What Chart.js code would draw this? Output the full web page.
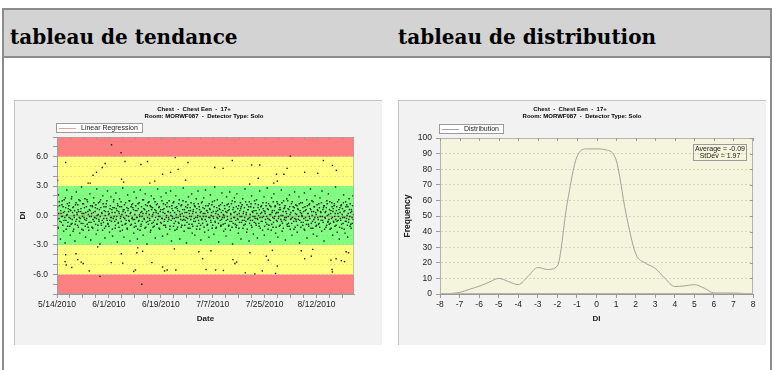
<!DOCTYPE html>
<html>
<head>
<meta charset="utf-8">
<script src="https://cdn.jsdelivr.net/npm/chart.js@4.4.0/dist/chart.umd.min.js"></script>
<style>
  html, body { margin: 0; padding: 0; background: #fff; width: 775px; height: 370px; overflow: hidden; }
  #frame { position: absolute; left: 2px; top: 8px; width: 766px; height: 400px; border: 2px solid #8c8c8c; border-bottom: none; }
  #head { position: absolute; left: 4px; top: 10px; width: 766px; height: 46px; background: #d3d3d3; border-bottom: 2px solid #8c8c8c; }
  .h { position: absolute; top: 10px; font: bold 20px "DejaVu Serif", serif; line-height: 54px; color: #000; white-space: nowrap; }
  canvas { position: absolute; }
</style>
</head>
<body>
<div id="frame"></div>
<div id="head"></div>
<div class="h" style="left:10px">tableau de tendance</div>
<div class="h" style="left:398px">tableau de distribution</div>
<canvas id="trend" width="368" height="245" style="left:14px;top:100px"></canvas>
<canvas id="dist" width="368" height="245" style="left:398px;top:100px"></canvas>
<script>
// ---- shared chart header ----
const chartTitleLines = ['Chest  -  Chest Een  -  17+', 'Room: MORWF087  -  Detector Type: Solo'];

// ---- trend chart: DI per exam, days counted from 5/14/2010 ----
const trendTickLabels = ['5/14/2010', '6/1/2010', '6/19/2010', '7/7/2010', '7/25/2010', '8/12/2010'];
const trendTickDays = [0, 18, 36, 54, 72, 90];
const trendMinorStep = 4.5;
const trendDayRange = [0, 103];
const bandLimits = [-8, -6, -3, 3, 6, 8];
const bandColors = ['#ff8080', '#ffff80', '#80ff80', '#ffff80', '#ff8080'];
const regressionLine = [[0, -0.03], [103, -0.1]];

const trendPoints = [
  [0.1,0.6],[0.3,-1.2],[0.5,2.1],[0.7,-0.3],[0.9,1.0],[1.2,-2.4],[1.4,0.2],[1.5,-0.7],[1.8,1.5],[1.9,-0.1],
  [2.1,0.9],[2.3,-1.6],[2.6,0.4],[2.8,-2.8],[2.9,1.8],[3.1,-0.5],[3.4,2.6],[3.5,0.1],[3.7,-1.1],[3.9,0.7],
  [4.2,-0.2],[4.3,1.3],[4.6,-2.0],[4.8,0.5],[4.9,-0.9],[5.1,1.9],[5.3,-0.4],[5.5,0.8],[5.8,-1.4],[5.9,0.0],
  [6.2,-2.6],[6.4,1.1],[6.5,-0.6],[6.7,2.4],[6.9,0.3],[7.1,-1.0],[7.3,0.6],[7.6,1.6],[7.7,-0.2],[7.9,-1.8],
  [8.2,0.4],[8.4,-0.8],[8.5,2.9],[8.8,-0.1],[8.9,1.2],[9.1,-1.5],[9.3,0.2],[9.6,-0.4],[9.7,1.7],[9.9,-2.2],
  [10.2,0.9],[10.3,-0.3],[10.6,1.4],[10.8,-1.2],[10.9,0.1],[11.1,-0.7],[11.4,2.2],[11.5,0.5],[11.7,-2.5],[11.9,-0.1],
  [12.2,1.0],[12.4,-1.3],[12.6,0.3],[12.7,1.8],[12.9,-0.6],[13.1,-0.2],[13.3,0.8],[13.6,-1.9],[13.8,2.7],[13.9,0.0],
  [14.2,-1.0],[14.4,1.3],[14.5,-0.4],[14.7,0.6],[14.9,-2.9],[15.1,1.6],[15.3,-0.8],[15.6,0.2],[15.8,-1.5],[15.9,2.0],
  [16.2,-0.3],[16.3,0.9],[16.6,-2.3],[16.8,0.4],[16.9,-1.1],[17.1,1.2],[17.4,-0.5],[17.5,2.5],[17.7,-0.9],[17.9,0.1],
  [18.2,-1.7],[18.4,0.7],[18.6,-0.2],[18.7,1.9],[18.9,-0.6],[19.1,0.3],[19.3,-2.1],[19.6,1.4],[19.8,-0.1],[19.9,0.8],
  [20.2,-1.3],[20.4,2.3],[20.5,-0.4],[20.8,0.5],[20.9,-2.7],[21.1,1.0],[21.3,-0.7],[21.6,0.2],[21.7,1.7],[21.9,-1.6],
  [22.1,-0.1],[22.4,0.9],[22.6,-1.0],[22.8,2.8],[22.9,0.4],[23.2,-2.2],[23.3,0.6],[23.5,-0.3],[23.8,1.3],[23.9,-0.8],
  [24.1,0.0],[24.4,-1.4],[24.5,2.1],[24.7,0.7],[24.9,-0.5],[25.2,1.5],[25.3,-2.6],[25.6,0.3],[25.8,-0.9],[25.9,1.1],
  [26.1,-0.2],[26.3,0.8],[26.6,-1.8],[26.7,2.4],[26.9,-0.4],[27.2,0.5],[27.4,-1.1],[27.5,1.8],[27.8,-0.2],[27.9,-2.4],
  [28.1,1.2],[28.3,-0.6],[28.6,0.1],[28.8,-1.5],[28.9,2.6],[29.2,-0.9],[29.4,0.4],[29.5,-0.1],[29.7,1.6],[29.9,-2.0],
  [30.1,0.7],[30.3,-0.4],[30.6,2.2],[30.8,-1.2],[30.9,0.2],[31.2,-2.9],[31.3,1.0],[31.5,-0.6],[31.8,0.5],[31.9,1.4],
  [32.1,-0.3],[32.4,-1.7],[32.6,0.9],[32.7,2.0],[32.9,-0.8],[33.2,0.1],[33.3,-1.2],[33.6,1.7],[33.8,-0.5],[33.9,0.6],
  [34.1,-2.3],[34.4,0.3],[34.5,1.1],[34.7,-0.9],[34.9,2.7],[35.2,-0.1],[35.3,0.8],[35.6,-1.4],[35.8,0.4],[35.9,-0.7],
  [36.1,1.9],[36.3,-0.3],[36.6,-2.1],[36.7,0.6],[36.9,1.2],[37.2,-0.6],[37.4,0.2],[37.5,-1.0],[37.8,2.3],[37.9,-0.2],
  [38.1,0.9],[38.3,-1.9],[38.6,0.4],[38.8,-0.4],[38.9,1.5],[39.2,-1.1],[39.4,2.5],[39.5,0.0],[39.7,-2.6],[39.9,0.7],
  [40.1,-0.3],[40.3,1.3],[40.6,-0.8],[40.8,0.3],[40.9,-1.5],[41.2,2.0],[41.3,-0.2],[41.5,0.9],[41.8,-1.2],[41.9,0.5],
  [42.1,-0.7],[42.4,1.6],[42.6,-2.4],[42.7,0.1],[42.9,-0.4],[43.2,1.1],[43.3,-1.0],[43.6,0.6],[43.8,2.8],[43.9,-0.1],
  [44.1,-1.6],[44.4,0.3],[44.5,-0.5],[44.7,1.4],[44.9,-2.8],[45.2,0.8],[45.3,-0.3],[45.6,1.9],[45.8,-0.9],[45.9,0.2],
  [46.1,-1.3],[46.3,0.5],[46.6,-0.1],[46.7,2.2],[46.9,-1.8],[47.2,0.4],[47.4,-0.6],[47.5,1.2],[47.8,-2.0],[47.9,0.9],
  [48.1,-0.2],[48.3,1.7],[48.6,-1.1],[48.8,0.0],[48.9,2.5],[49.2,-0.8],[49.4,0.6],[49.5,-1.4],[49.7,0.3],[49.9,-2.5],
  [50.1,1.3],[50.3,-0.4],[50.6,0.8],[50.8,-0.1],[50.9,1.8],[51.2,-1.7],[51.3,0.2],[51.5,2.6],[51.8,-0.6],[51.9,0.5],
  [52.1,-1.0],[52.4,1.0],[52.6,-0.2],[52.7,-2.2],[52.9,0.7],[53.2,2.1],[53.3,-0.5],[53.6,0.3],[53.8,-1.3],[53.9,1.4],
  [54.1,-0.1],[54.4,-1.9],[54.5,0.9],[54.7,2.9],[54.9,-0.7],[55.2,0.4],[55.3,-1.2],[55.6,1.6],[55.8,-0.3],[55.9,0.1],
  [56.1,-2.7],[56.3,0.7],[56.6,-0.5],[56.7,1.1],[56.9,-1.0],[57.2,2.3],[57.4,-0.2],[57.5,0.5],[57.8,-1.6],[57.9,0.0],
  [58.1,1.0],[58.3,-0.8],[58.6,-2.1],[58.8,1.9],[58.9,0.3],[59.2,-0.4],[59.4,1.2],[59.5,-1.1],[59.7,0.6],[59.9,2.4],
  [60.1,-1.5],[60.3,0.1],[60.6,-0.6],[60.8,1.5],[60.9,-2.9],[61.2,0.8],[61.3,-0.2],[61.5,1.8],[61.8,-0.9],[61.9,0.4],
  [62.1,-1.2],[62.4,2.2],[62.6,-0.3],[62.7,0.7],[62.9,-1.8],[63.2,0.2],[63.3,-0.7],[63.6,1.3],[63.8,-2.4],[63.9,0.9],
  [64.1,-0.1],[64.4,1.7],[64.5,-1.3],[64.7,0.4],[64.9,-0.5],[65.2,2.7],[65.3,-0.9],[65.6,0.1],[65.8,-1.7],[65.9,1.1],
  [66.1,-0.4],[66.3,0.6],[66.6,-2.6],[66.7,1.4],[66.9,-0.2],[67.2,0.9],[67.4,-1.0],[67.5,2.0],[67.8,-0.5],[67.9,0.3],
  [68.1,-1.9],[68.3,0.5],[68.6,-0.1],[68.8,1.2],[68.9,-0.8],[69.2,1.6],[69.4,-0.3],[69.5,-2.3],[69.7,0.8],[69.9,0.0],
  [70.1,-1.1],[70.3,2.5],[70.6,0.2],[70.8,-0.6],[70.9,1.0],[71.2,-0.2],[71.3,-1.5],[71.5,0.7],[71.8,1.9],[71.9,-2.0],
  [72.1,0.4],[72.4,-0.7],[72.6,1.3],[72.7,-0.1],[72.9,2.8],[73.2,-1.4],[73.3,0.6],[73.6,-0.4],[73.8,1.0],[73.9,-2.7],
  [74.1,0.1],[74.4,1.8],[74.5,-0.9],[74.7,0.5],[74.9,-1.2],[75.2,2.2],[75.3,-0.3],[75.6,0.9],[75.8,-1.8],[75.9,0.2],
  [76.1,-0.5],[76.3,1.4],[76.6,-2.2],[76.7,0.3],[76.9,-0.1],[77.2,1.1],[77.4,-1.0],[77.5,0.6],[77.8,2.6],[77.9,-0.6],
  [78.1,-1.6],[78.3,0.0],[78.6,1.5],[78.8,-0.4],[78.9,0.8],[79.2,-2.5],[79.4,0.4],[79.5,-0.2],[79.7,1.7],[79.9,-1.1],
  [80.1,0.7],[80.3,-0.8],[80.6,2.1],[80.8,0.1],[80.9,-1.4],[81.2,-0.3],[81.3,1.2],[81.5,-2.0],[81.8,0.5],[81.9,0.9],
  [82.1,-0.6],[82.4,2.4],[82.6,-1.2],[82.7,0.2],[82.9,-0.4],[83.2,1.0],[83.3,-1.7],[83.6,0.6],[83.8,-0.1],[83.9,1.9],
  [84.1,-2.8],[84.4,0.3],[84.5,1.3],[84.7,-0.7],[84.9,0.0],[85.2,-1.0],[85.3,0.8],[85.6,-0.3],[85.8,2.3],[85.9,-1.5],
  [86.1,0.5],[86.3,-0.5],[86.6,1.6],[86.7,-2.3],[86.9,0.2],[87.2,-0.9],[87.4,1.1],[87.5,-0.1],[87.8,0.7],[87.9,2.7],
  [88.1,-1.3],[88.3,0.4],[88.6,-0.6],[88.8,1.4],[88.9,-1.9],[89.2,0.9],[89.4,-0.2],[89.5,2.0],[89.8,-1.1],[89.9,0.1],
  [90.1,-2.1],[90.3,0.6],[90.6,-0.4],[90.8,1.2],[90.9,-0.8],[91.2,1.8],[91.3,-0.1],[91.5,0.3],[91.8,-1.6],[91.9,2.5],
  [92.1,-0.5],[92.4,0.8],[92.6,-2.6],[92.7,1.0],[92.9,-0.2],[93.2,0.4],[93.3,-1.2],[93.6,1.5],[93.8,0.0],[93.9,-0.7],
  [94.1,2.2],[94.4,-0.9],[94.5,0.6],[94.7,-1.4],[94.9,0.2],[95.2,-0.3],[95.3,1.3],[95.6,-2.0],[95.8,0.7],[95.9,-0.6],
  [96.1,1.0],[96.3,-0.1],[96.6,2.9],[96.8,-1.0],[96.9,0.5],[97.2,-1.7],[97.4,0.2],[97.5,-0.5],[97.7,1.6],[97.9,-2.4],
  [98.1,0.8],[98.3,-0.3],[98.6,1.1],[98.8,-1.3],[98.9,0.1],[99.2,-0.8],[99.4,2.1],[99.5,0.4],[99.7,-0.2],[99.9,-1.8],
  [100.1,1.4],[100.3,-0.6],[100.6,0.0],[100.8,-2.2],[100.9,0.9],[101.2,-0.4],[101.3,1.7],[101.6,-1.1],[101.8,0.3],[101.9,-0.9],
  [102.1,0.6],[102.3,-0.2],[102.6,2.0],
  [0.0,-0.4],[0.2,0.9],[0.4,-1.3],[0.6,0.2],[0.8,1.4],[1.0,-0.6],[1.3,0.5],[1.6,-0.1],[1.7,1.1],[2.0,-1.0],
  [2.2,0.3],[2.4,-0.5],[2.5,1.6],[2.7,-0.2],[3.0,0.8],[3.2,-1.4],[3.3,0.0],[3.6,1.2],[3.8,-0.7],[4.0,0.4],
  [4.1,1.0],[4.4,-1.1],[4.5,0.6],[4.7,-0.3],[5.0,1.7],[5.2,-0.8],[5.4,0.3],[5.6,-1.6],[5.7,0.9],[6.0,-0.2],
  [6.1,0.5],[6.3,-0.9],[6.6,1.3],[6.8,-0.4],[7.0,0.1],[7.2,1.1],[7.4,-1.2],[7.5,0.4],[7.8,-0.6],[8.0,1.5],
  [8.1,-0.3],[8.3,0.7],[8.6,-1.4],[8.7,0.2],[9.0,-0.8],[9.2,1.2],[9.4,-0.2],[9.5,0.8],[9.8,-1.1],[10.0,0.3],
  [10.1,-0.5],[10.4,1.6],[10.5,-0.9],[10.7,0.4],[11.0,-1.5],[11.2,0.6],[11.3,-0.1],[11.6,1.0],[11.8,-0.7],[12.0,0.2],
  [12.1,-1.2],[12.3,0.9],[12.5,-0.4],[12.8,1.3],[13.0,-0.2],[13.2,0.4],[13.4,-0.9],[13.5,1.1],[13.7,-0.3],[14.0,0.7],
  [14.1,-1.5],[14.3,0.1],[14.6,-0.6],[14.8,1.4],[15.0,-0.1],[15.2,0.8],[15.4,-1.0],[15.5,0.3],[15.7,-0.5],[16.0,1.2],
  [16.1,-0.7],[16.4,0.5],[16.5,-1.3],[16.7,0.0],[17.0,0.9],[17.2,-0.3],[17.3,1.5],[17.6,-0.8],[17.8,0.4],[18.0,-1.1],
  [18.1,0.2],[18.3,-0.5],[18.5,1.0],[18.8,-0.2],[19.0,0.6],[19.2,-1.4],[19.4,0.8],[19.5,-0.3],[19.7,1.6],[20.0,-0.6],
  [20.1,0.3],[20.3,-1.0],[20.6,0.7],[20.7,-0.1],[21.0,1.2],[21.2,-0.8],[21.4,0.4],[21.5,-1.2],[21.8,0.9],[22.0,-0.3],
  [22.2,1.4],[22.3,-0.6],[22.5,0.1],[22.7,-1.5],[23.0,0.6],[23.1,-0.2],[23.4,1.1],[23.6,-0.9],[23.7,0.3],[24.0,-0.5],
  [24.2,0.8],[24.3,-1.3],[24.6,0.5],[24.8,-0.1],[25.0,1.5],[25.1,-0.6],[25.4,0.2],[25.5,-1.0],[25.7,0.9],[26.0,-0.3],
  [26.2,1.2],[26.4,-0.4],[26.5,0.6],[26.8,-1.2],[27.0,0.1],[27.1,-0.8],[27.3,1.0],[27.6,-0.2],[27.7,0.5],[28.0,-1.4],
  [28.2,0.7],[28.4,-0.5],[28.5,1.3],[28.7,-0.1],[29.0,0.3],[29.1,-1.1],[29.3,0.9],[29.6,-0.6],[29.8,0.2],[30.0,1.6],
  [30.2,-0.3],[30.4,0.6],[30.5,-1.3],[30.7,1.1],[31.0,-0.7],[31.1,0.4],[31.4,-0.2],[31.6,1.3],[31.7,-0.9],[32.0,0.1],
  [32.2,-0.5],[32.3,1.0],[32.5,-1.5],[32.8,0.6],[33.0,-0.1],[33.1,0.8],[33.4,-0.7],[33.5,0.3],[33.7,-1.1],[34.0,1.4],
  [34.2,-0.2],[34.3,0.5],[34.6,-0.9],[34.8,1.2],[35.0,-0.4],[35.1,0.2],[35.4,-1.3],[35.5,0.9],[35.7,-0.1],[36.0,0.6],
  [36.2,-0.8],[36.4,1.5],[36.5,-0.3],[36.8,0.3],[37.0,-1.0],[37.1,0.7],[37.3,-0.4],[37.6,1.1],[37.7,-1.2],[38.0,0.0],
  [38.2,1.3],[38.4,-0.6],[38.5,0.4],[38.7,-0.2],[39.0,0.9],[39.1,-1.4],[39.3,0.3],[39.6,-0.5],[39.8,1.0],[40.0,-0.1],
  [40.2,0.5],[40.4,-1.1],[40.5,1.4],[40.7,-0.3],[41.0,0.8],[41.1,-0.6],[41.4,0.1],[41.6,-1.4],[41.7,0.7],[42.0,-0.2],
  [42.2,1.2],[42.3,-0.8],[42.5,0.4],[42.8,-0.1],[43.0,1.0],[43.1,-1.2],[43.4,0.2],[43.5,-0.5],[43.7,1.5],[44.0,-0.4],
  [44.2,0.6],[44.3,-1.0],[44.6,0.9],[44.8,-0.2],[45.0,0.3],[45.1,-0.7],[45.4,1.1],[45.5,-1.3],[45.7,0.5],[46.0,-0.1],
  [46.2,0.8],[46.4,-0.4],[46.5,1.3],[46.8,-0.9],[47.0,0.2],[47.1,-1.1],[47.3,0.6],[47.6,-0.3],[47.7,1.0],[48.0,-0.6],
  [48.2,0.3],[48.4,-1.4],[48.5,0.7],[48.7,-0.2],[49.0,1.2],[49.1,-0.5],[49.3,0.9],[49.6,-0.1],[49.8,-1.0],[50.0,0.4],
  [50.2,-0.3],[50.4,1.4],[50.5,-0.8],[50.7,0.2],[51.0,-1.2],[51.1,0.7],[51.4,-0.4],[51.6,1.0],[51.7,-0.1],[52.0,0.5],
  [52.2,-0.9],[52.3,0.3],[52.5,-1.5],[52.8,1.2],[53.0,-0.2],[53.1,0.6],[53.4,-0.7],[53.5,0.0],[53.7,1.1],[54.0,-1.0],
  [54.2,0.4],[54.3,-0.3],[54.6,1.5],[54.8,-0.6],[55.0,0.2],[55.1,-1.3],[55.4,0.8],[55.5,-0.2],[55.7,0.5],[56.0,-0.8],
  [56.2,1.0],[56.4,-0.1],[56.5,0.6],[56.8,-1.1],[57.0,0.3],[57.1,-0.4],[57.3,1.3],[57.6,-0.9],[57.7,0.1],[58.0,-0.2],
  [58.2,0.7],[58.4,-1.4],[58.5,0.4],[58.7,-0.5],[59.0,1.1],[59.1,-0.1],[59.3,0.5],[59.6,-1.0],[59.8,0.9],[60.0,-0.6],
  [60.2,0.2],[60.4,-0.3],[60.5,1.2],[60.7,-1.2],[61.0,0.6],[61.1,-0.8],[61.4,0.3],[61.6,-0.2],[61.7,1.4],[62.0,-0.5],
  [62.2,0.9],[62.3,-1.0],[62.5,0.1],[62.8,-0.4],[63.0,1.0],[63.1,-1.3],[63.4,0.5],[63.5,-0.1],[63.7,0.7],[64.0,-0.7],
  [64.2,1.1],[64.3,-0.5],[64.6,0.2],[64.8,-1.0],[65.0,0.8],[65.1,-0.2],[65.4,1.4],[65.5,-0.6],[65.7,0.3],[66.0,-1.4],
  [66.2,0.6],[66.4,-0.3],[66.5,0.9],[66.8,-0.8],[67.0,0.1],[67.1,-0.5],[67.3,1.2],[67.6,-1.2],[67.7,0.4],[68.0,-0.1],
  [68.2,0.8],[68.4,-0.7],[68.5,1.5],[68.7,-0.3],[69.0,0.5],[69.1,-1.0],[69.3,0.2],[69.6,-0.4],[69.8,1.1],[70.0,-0.8],
  [70.2,0.6],[70.4,-0.2],[70.5,-1.3],[70.7,0.9],[71.0,0.3],[71.1,-0.6],[71.4,1.3],[71.6,-0.1],[71.7,0.5],[72.0,-1.1],
  [72.2,0.2],[72.3,-0.4],[72.5,1.0],[72.8,-0.9],[73.0,0.7],[73.1,-0.3],[73.4,1.2],[73.5,-1.0],[73.7,0.1],[74.0,-0.5],
  [74.2,0.9],[74.3,-1.5],[74.6,0.3],[74.8,-0.2],[75.0,1.4],[75.1,-0.7],[75.4,0.5],[75.5,-0.1],[75.7,1.0],[76.0,-1.2],
  [76.2,0.3],[76.4,-0.6],[76.5,1.2],[76.8,-0.3],[77.0,0.6],[77.1,-1.1],[77.3,0.8],[77.6,-0.4],[77.7,0.0],[78.0,1.3],
  [78.2,-0.8],[78.4,0.4],[78.5,-1.3],[78.7,0.7],[79.0,-0.2],[79.1,1.0],[79.3,-0.5],[79.6,0.2],[79.8,-0.9],[80.0,1.5],
  [80.2,-0.1],[80.4,0.6],[80.5,-1.1],[80.7,0.9],[81.0,-0.4],[81.1,0.3],[81.4,-0.8],[81.6,1.4],[81.7,-0.2],[82.0,0.5],
  [82.2,-1.4],[82.3,0.8],[82.5,-0.3],[82.8,1.1],[83.0,-0.6],[83.1,0.1],[83.4,-1.0],[83.5,0.7],[83.7,-0.4],[84.0,1.2],
  [84.2,-0.5],[84.3,0.5],[84.6,-1.2],[84.8,0.2],[85.0,-0.1],[85.1,1.3],[85.4,-0.7],[85.5,0.4],[85.7,-1.4],[86.0,0.9],
  [86.2,-0.2],[86.4,0.6],[86.5,-0.9],[86.8,1.0],[87.0,-0.5],[87.1,0.2],[87.3,-1.1],[87.6,1.2],[87.7,-0.3],[88.0,0.6],
  [88.2,-0.8],[88.4,1.5],[88.5,0.0],[88.7,-1.3],[89.0,0.4],[89.1,-0.4],[89.3,0.9],[89.6,-0.7],[89.7,0.3],[90.0,-1.0],
  [90.2,1.1],[90.4,-0.2],[90.5,0.5],[90.7,-0.9],[91.0,0.8],[91.1,-1.2],[91.4,0.4],[91.6,-0.5],[91.7,1.3],[92.0,-0.1],
  [92.2,0.6],[92.3,-0.7],[92.5,1.0],[92.8,-1.4],[93.0,0.3],[93.1,-0.3],[93.4,0.8],[93.5,-1.0],[93.7,1.2],[94.0,-0.6],
  [94.2,0.1],[94.3,-0.4],[94.6,1.4],[94.8,-0.8],[95.0,0.5],[95.1,-1.3],[95.4,0.9],[95.5,-0.2],[95.7,0.4],[96.0,-0.7],
  [96.2,1.2],[96.4,-1.1],[96.5,0.2],[96.7,-0.4],[97.0,0.9],[97.1,-0.6],[97.3,1.4],[97.6,-0.1],[97.8,0.6],[98.0,-1.2],
  [98.2,0.3],[98.4,-0.5],[98.5,1.0],[98.7,-0.9],[99.0,0.7],[99.1,-0.2],[99.3,1.3],[99.6,-1.4],[99.8,0.5],[100.0,-0.6],
  [100.2,0.9],[100.4,-0.3],[100.5,1.1],[100.7,-1.0],[101.0,0.2],[101.1,-0.7],[101.4,0.6],[101.5,-0.1],[101.7,1.2],[102.0,-1.3],
  [102.2,0.4],[102.4,-0.8],[102.5,1.0],[102.7,-0.4],[102.8,0.1]
];

const trendOutliers = [
  [0.2,3.6],[3.0,5.4],[10.8,3.3],[11.5,3.3],[12.5,4.1],[13.7,4.4],[15.7,4.9],[16.7,5.3],[18.9,7.2],[22.2,6.4],
  [22.4,3.7],[23.1,3.4],[23.6,5.5],[29.1,5.2],[31.4,5.5],[32.2,3.3],[33.9,3.5],[36.6,4.2],[39.4,4.4],[41.0,5.9],
  [42.0,4.7],[44.6,3.6],[45.4,5.4],[54.7,4.9],[57.6,4.8],[60.8,5.6],[66.8,3.2],[67.5,5.15],[69.8,3.8],[70.3,5.15],
  [75.2,3.3],[76.1,4.2],[76.4,3.5],[78.7,4.2],[79.8,4.8],[80.9,6.05],[85.9,4.4],[90.4,4.3],[92.4,5.6],[95.5,5.1],[96.9,4.6],
  [2.8,-4.7],[3.0,-4.0],[3.2,-5.05],[5.1,-5.3],[6.6,-3.9],[7.2,-4.5],[8.4,-4.75],[9.1,-4.9],[11.2,-5.65],[14.1,-3.2],
  [14.9,-6.2],[18.8,-4.8],[22.3,-3.9],[22.8,-4.85],[26.6,-5.7],[27.2,-5.55],[27.7,-3.8],[28.0,-3.3],[29.4,-7.0],[29.7,-3.65],
  [32.9,-4.8],[36.6,-5.25],[37.3,-5.65],[38.2,-5.55],[40.7,-3.4],[41.2,-5.55],[49.2,-3.7],[50.5,-4.4],[51.7,-5.5],[53.4,-3.6],
  [55.0,-5.55],[57.7,-5.6],[61.0,-4.5],[61.7,-4.9],[62.3,-4.75],[65.3,-5.85],[66.9,-3.8],[68.6,-5.95],[71.2,-5.65],[72.6,-4.15],
  [73.3,-4.55],[74.7,-3.55],[75.8,-5.9],[76.4,-5.15],[84.7,-3.6],[85.9,-4.4],[88.2,-4.15],[88.7,-3.45],[95.0,-4.55],[95.4,-5.5],
  [95.5,-5.75],[96.8,-4.4],[98.6,-4.6],[99.7,-4.7],[100.3,-3.7],[101.1,-3.8]
];

// ---- distribution chart ----
const distDI   = [-8, -7.5, -7, -6.5, -6, -5.5, -5, -4.5, -4, -3.5, -3, -2.5, -2, -1.5, -1, -0.5, 0, 0.5, 1, 1.5, 2, 2.5, 3, 3.5, 4, 4.5, 5, 5.5, 6, 6.5, 7, 7.5, 8];
const distFreq = [0, 0.3, 1, 3, 5, 7.5, 10, 8, 6, 11.3, 17, 15.7, 18, 58, 88, 93, 93, 92.3, 86, 52, 26, 19.8, 16.5, 10, 4.8, 5.2, 6, 3.8, 0.7, 0.6, 0.6, 0.4, 0];
const distStats = ['Average = -0.09', 'StDev = 1.97'];

Chart.defaults.font.family = '"Liberation Sans", Arial, sans-serif';
Chart.defaults.color = '#222';

const tickFont = { size: 8.5 };
const titleFont = { size: 8, weight: 'bold' };

// panel background, plot decorations, header lines, legend box and stats box
function panelPlugin(cfg) {
  return {
    id: 'panel',
    beforeDraw(chart) {
      const { ctx, width, height, chartArea: a } = chart;
      ctx.save();
      ctx.fillStyle = '#f2f2f2';
      ctx.fillRect(0, 0, width, height);
      ctx.fillStyle = '#c4c4c4';
      ctx.fillRect(0, 0, width, 1);
      ctx.fillRect(0, 0, 1, height);
      if (cfg.plotFill) {
        ctx.fillStyle = cfg.plotFill;
        ctx.fillRect(a.left, a.top, a.right - a.left, a.bottom - a.top);
      }
      if (cfg.bands) {
        const y = chart.scales.y;
        for (let i = 0; i < bandColors.length; i++) {
          const top = y.getPixelForValue(bandLimits[i + 1]);
          const bot = y.getPixelForValue(bandLimits[i]);
          ctx.fillStyle = bandColors[i];
          ctx.fillRect(a.left, top, a.right - a.left, bot - top);
        }
      }
      ctx.restore();
    },
    afterDraw(chart) {
      const { ctx, chartArea: a, scales: { x, y } } = chart;
      ctx.save();
      // plot frame and inner tick marks on top (and right)
      ctx.strokeStyle = cfg.frameColor;
      ctx.lineWidth = 1;
      ctx.strokeRect(a.left + 0.5, a.top + 0.5, a.right - a.left - 1, a.bottom - a.top - 1);
      ctx.strokeStyle = '#9a9a9a';
      ctx.beginPath();
      x.ticks.forEach(t => {
        const px = Math.round(x.getPixelForValue(t.value)) + 0.5;
        ctx.moveTo(px, a.top); ctx.lineTo(px, a.top + 3);
      });
      if (cfg.rightTicks) {
        y.ticks.forEach(t => {
          const py = Math.round(y.getPixelForValue(t.value)) + 0.5;
          ctx.moveTo(a.right - 3, py); ctx.lineTo(a.right, py);
        });
      }
      ctx.stroke();

      // header lines
      ctx.fillStyle = '#000';
      ctx.font = 'bold 6px "Liberation Sans", Arial, sans-serif';
      ctx.textAlign = 'center';
      ctx.textBaseline = 'middle';
      ctx.fillText(chartTitleLines[0], cfg.titleX[0], 9.5);
      ctx.fillText(chartTitleLines[1], cfg.titleX[1], 16.5);

      // legend box
      const ds = chart.data.datasets[cfg.legendIndex];
      ctx.font = '7px "Liberation Sans", Arial, sans-serif';
      const tw = ctx.measureText(ds.label).width;
      const lx = cfg.legendX, ly = cfg.legendY, lh = 10;
      const lw = Math.round(25 + tw + 5);
      ctx.fillStyle = '#ffffff';
      ctx.fillRect(lx, ly, lw, lh);
      ctx.strokeStyle = '#9a9a9a';
      ctx.strokeRect(lx + 0.5, ly + 0.5, lw - 1, lh - 1);
      ctx.strokeStyle = cfg.legendColor || ds.borderColor;
      ctx.beginPath();
      ctx.moveTo(lx + 3, ly + 5.5); ctx.lineTo(lx + 20, ly + 5.5);
      ctx.stroke();
      ctx.fillStyle = '#222';
      ctx.textAlign = 'left';
      ctx.fillText(ds.label, lx + 25, ly + 5.5);

      // statistics box
      if (cfg.stats) {
        ctx.font = '7px "Liberation Sans", Arial, sans-serif';
        const w = Math.ceil(Math.max(...cfg.stats.map(s => ctx.measureText(s).width))) + 3;
        const bh = 16;
        const bx = a.right - 7 - w, by = a.top + 6;
        ctx.strokeStyle = '#9a9a9a';
        ctx.strokeRect(bx + 0.5, by + 0.5, w, bh);
        ctx.fillStyle = '#222';
        ctx.textAlign = 'center';
        cfg.stats.forEach((s, i) => ctx.fillText(s, bx + w / 2 + 0.5, by + 5 + i * 7));
      }
      ctx.restore();
    }
  };
}

// ---- trend chart ----
new Chart(document.getElementById('trend'), {
  type: 'scatter',
  data: {
    datasets: [
      {
        label: 'DI',
        data: trendPoints.concat(trendOutliers).map(([d, v]) => ({ x: d, y: v })),
        pointStyle: 'rect',
        pointRadius: 1,
        backgroundColor: '#1c1c1c',
        borderWidth: 0
      },
      {
        label: 'Linear Regression',
        data: regressionLine.map(([d, v]) => ({ x: d, y: v })),
        showLine: true,
        borderColor: 'rgba(190,110,90,0.55)',
        borderWidth: 1,
        pointRadius: 0
      }
    ]
  },
  options: {
    responsive: false,
    animation: false,
    devicePixelRatio: 1,
    layout: { padding: { top: 37, right: 28, bottom: 0, left: 0 } },
    plugins: { legend: { display: false }, tooltip: { enabled: false } },
    scales: {
      x: {
        type: 'linear',
        min: trendDayRange[0],
        max: trendDayRange[1],
        afterFit: s => { s.height = 51; },
        afterBuildTicks: s => {
          const ticks = [];
          for (let d = trendDayRange[0]; d <= trendDayRange[1]; d += trendMinorStep) ticks.push({ value: d });
          s.ticks = ticks;
        },
        ticks: {
          autoSkip: false, maxRotation: 0, padding: 2, font: tickFont,
          callback: v => { const i = trendTickDays.indexOf(v); return i >= 0 ? trendTickLabels[i] : ''; }
        },
        grid: { drawOnChartArea: false, tickLength: 4, tickColor: '#9a9a9a' },
        border: { color: '#9a9a9a' },
        title: { display: true, text: 'Date', font: titleFont, padding: { top: 0, bottom: 21.5 } }
      },
      y: {
        min: -8,
        max: 8,
        afterFit: s => { s.width = 43; },
        ticks: {
          stepSize: 1, autoSkip: false, padding: 5, font: tickFont,
          callback: v => (v % 3 === 0 ? v.toFixed(1) : '')
        },
        grid: { color: 'rgba(170,170,170,0.35)', tickLength: 4, tickColor: '#9a9a9a' },
        border: { color: '#9a9a9a', dash: [2, 2] },
        title: { display: true, text: 'DI', font: titleFont, padding: { top: 4, bottom: 0 } }
      }
    }
  },
  plugins: [panelPlugin({ bands: true, frameColor: 'rgba(160,160,160,0.6)', titleX: [180, 190], legendIndex: 1, legendX: 42, legendY: 23, legendColor: '#e8a0a0' })]
});

// ---- distribution chart ----
new Chart(document.getElementById('dist'), {
  type: 'line',
  data: {
    datasets: [{
      label: 'Distribution',
      data: distDI.map((d, i) => ({ x: d, y: distFreq[i] })),
      borderColor: '#a3a39c',
      borderWidth: 1,
      pointRadius: 0,
      fill: false,
      cubicInterpolationMode: 'monotone'
    }]
  },
  options: {
    responsive: false,
    animation: false,
    devicePixelRatio: 1,
    layout: { padding: { top: 38, right: 13, bottom: 0, left: 0 } },
    plugins: { legend: { display: false }, tooltip: { enabled: false } },
    scales: {
      x: {
        type: 'linear',
        min: -8,
        max: 8,
        afterFit: s => { s.height = 51; },
        ticks: { stepSize: 1, autoSkip: false, maxRotation: 0, padding: 2, font: tickFont },
        grid: { drawOnChartArea: false, tickLength: 4, tickColor: '#9a9a9a' },
        border: { color: '#9a9a9a' },
        title: { display: true, text: 'DI', font: titleFont, padding: { top: 0, bottom: 21 } }
      },
      y: {
        min: 0,
        max: 100,
        afterFit: s => { s.width = 42; },
        ticks: { stepSize: 10, autoSkip: false, padding: 4, font: tickFont },
        grid: { color: 'rgba(185,185,165,0.55)', tickLength: 4, tickColor: '#9a9a9a' },
        border: { color: '#9a9a9a', dash: [2, 2] },
        title: { display: true, text: 'Frequency', font: { size: 8.5, weight: 'bold' }, padding: { top: 5, bottom: 0 } }
      }
    }
  },
  plugins: [panelPlugin({ plotFill: '#f5f4dc', frameColor: '#b4b4ac', rightTicks: true, titleX: [172, 184], legendIndex: 0, legendX: 41, legendY: 24, stats: distStats })]
});
</script>
</body>
</html>
